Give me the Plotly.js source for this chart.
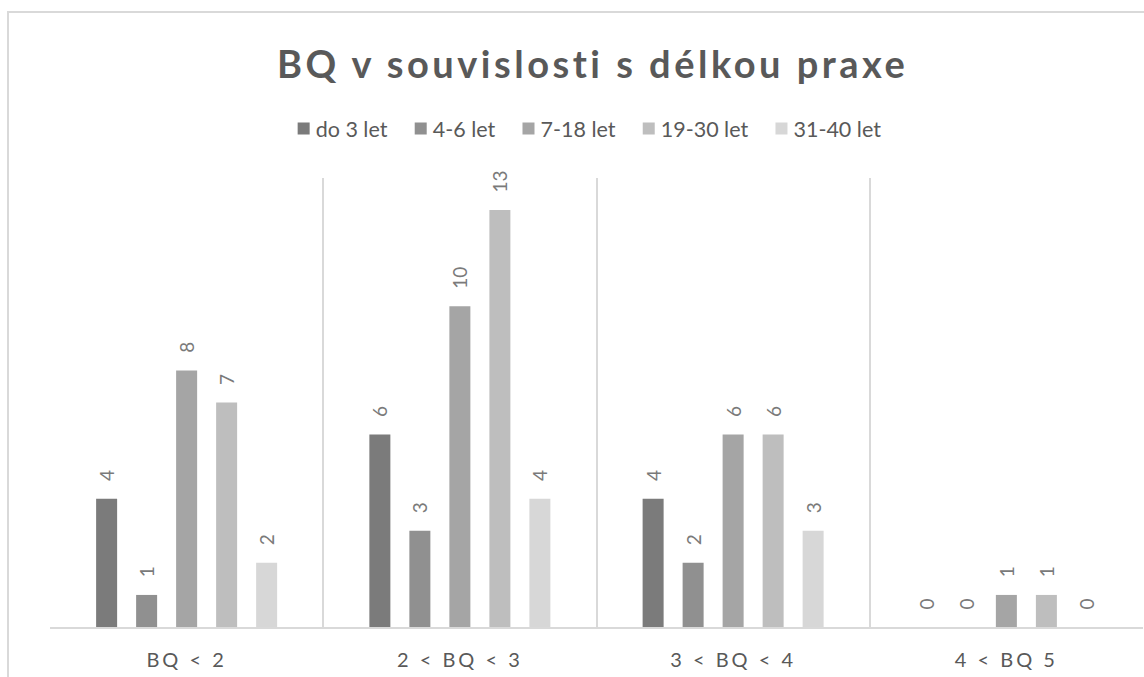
<!DOCTYPE html>
<html>
<head>
<meta charset="utf-8">
<script src="https://cdn.plot.ly/plotly-3.0.1.min.js"></script>
<style>
    body { margin: 0; background: #fff; }
    #frame {
        position: absolute; left: 7px; top: 11px;
        width: 1200px; height: 800px;
        border: 2px solid #d9d9d9; box-sizing: border-box;
    }
    #chart { position: absolute; left: 0; top: 0; width: 1144px; height: 677px; }
    .gtitle { letter-spacing: 3.5px; }
    .xtick text { letter-spacing: 3px; }
    g.legendpoints { transform: translateX(8px); }
</style>
</head>
<body>
<div id="frame"></div>
<div id="chart"></div>
<script>
const categories = ["BQ < 2", "2 < BQ < 3", "3 < BQ < 4", "4 < BQ 5"];
const seriesNames = ["do 3 let", "4-6 let", "7-18 let", "19-30 let", "31-40 let"];
const doTriLet = [4, 6, 4, 0];
const ctyriSestLet = [1, 3, 2, 0];
const sedmOsmnactLet = [8, 10, 6, 1];
const devatenactTricetLet = [7, 13, 6, 1];
const tricetjednaCtyricetLet = [2, 4, 3, 0];
const seriesValues = [doTriLet, ctyriSestLet, sedmOsmnactLet, devatenactTricetLet, tricetjednaCtyricetLet];
const seriesColors = ["#7b7b7b", "#909090", "#a5a5a5", "#bebebe", "#d7d7d7"];

const FONT = "Lato, 'Open Sans', sans-serif";
const TEXT_GRAY = "#595959";
const GRID_GRAY = "#d9d9d9";

const barTraces = seriesNames.map((name, i) => ({
    type: "bar",
    name: name,
    x: categories,
    y: seriesValues[i],
    showlegend: false,
    marker: { color: seriesColors[i], line: { width: 0 } },
    texttemplate: "\u00a0\u00a0\u00a0%{y}",
    textposition: "outside",
    textangle: -90,
    constraintext: "none",
    cliponaxis: false,
    textfont: { family: FONT, size: 19, color: "#7a7a7a" },
    hoverinfo: "skip",
}));

// square legend swatches like the original
const legendTraces = seriesNames.map((name, i) => ({
    type: "scatter",
    mode: "markers",
    name: name,
    x: [null],
    y: [null],
    marker: { symbol: "square", size: 12, color: seriesColors[i] },
    hoverinfo: "skip",
}));

const layout = {
    width: 1144,
    height: 677,
    margin: { l: 50, r: 1, t: 178, b: 50 },
    paper_bgcolor: "rgba(0,0,0,0)",
    plot_bgcolor: "rgba(0,0,0,0)",
    font: { family: FONT, color: TEXT_GRAY },
    title: {
        text: "<b>BQ v souvislosti s délkou praxe</b>",
        font: { family: FONT, size: 38, color: TEXT_GRAY },
        x: 0.518, xref: "container", xanchor: "center",
        y: 0.905, yref: "container", yanchor: "middle",
    },
    showlegend: true,
    legend: {
        orientation: "h",
        x: 0.508, xref: "container", xanchor: "center",
        y: 0.81, yref: "container", yanchor: "middle",
        font: { family: FONT, size: 21.5, color: TEXT_GRAY },
        itemwidth: 30,
        itemclick: false,
        itemdoubleclick: false,
        traceorder: "normal",
    },
    barmode: "group",
    bargap: 0.268,
    bargroupgap: 0.475,
    xaxis: {
        type: "category",
        range: [-0.5, 3.5],
        tickson: "boundaries",
        ticks: "",
        showgrid: true,
        gridcolor: GRID_GRAY,
        gridwidth: 2,
        showline: true,
        linecolor: GRID_GRAY,
        linewidth: 2,
        ticklabelstandoff: 14,
        tickfont: { family: FONT, size: 20, color: TEXT_GRAY },
        fixedrange: true,
    },
    yaxis: {
        range: [0, 14],
        showgrid: false,
        zeroline: false,
        showticklabels: false,
        ticks: "",
        fixedrange: true,
    },
};

Plotly.newPlot("chart", barTraces.concat(legendTraces), layout, { displayModeBar: false, staticPlot: true });
</script>
</body>
</html>
